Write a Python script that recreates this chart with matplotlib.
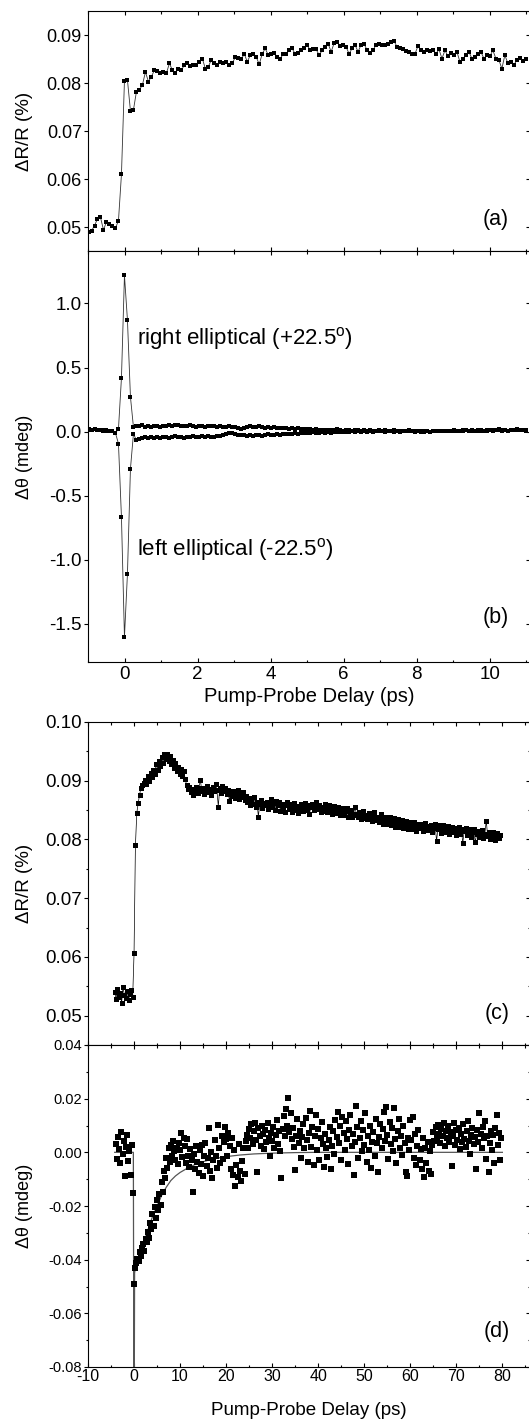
import numpy as np
import matplotlib
matplotlib.use('Agg')
import matplotlib.pyplot as plt
from matplotlib.ticker import MultipleLocator

plt.rcParams['font.family'] = ['Liberation Sans', 'DejaVu Sans']
plt.rcParams['mathtext.fontset'] = 'custom'
plt.rcParams['mathtext.rm'] = 'Liberation Sans'
plt.rcParams['mathtext.it'] = 'Liberation Sans:italic'

# ---------------- data ----------------
# panels (a),(b): delay grid start / step (ps)
ab_start = -0.986
ab_step = 0.082

# (a) dR/R (%)
dRR_a = [0.0489, 0.0492, 0.0503, 0.0517, 0.0520, 0.0494, 0.0511, 0.0506, 0.0503, 0.0498, 0.0513, 0.0610,
         0.0805, 0.0806, 0.0742,
         0.0744, 0.0782, 0.0786, 0.0796, 0.0823, 0.0803, 0.0813, 0.0827, 0.0826, 0.0820,
         0.0823, 0.0820, 0.0841, 0.0827, 0.0821, 0.0830, 0.0827, 0.0837, 0.0841, 0.0835,
         0.0837, 0.0837, 0.0844, 0.0851, 0.0830, 0.0834, 0.0848, 0.0842, 0.0837, 0.0844,
         0.0841, 0.0844, 0.0837, 0.0841, 0.0854, 0.0853, 0.0849, 0.0861, 0.0844, 0.0858,
         0.0861, 0.0854, 0.0839, 0.0861, 0.0872, 0.0858, 0.0861, 0.0863, 0.0854, 0.0851,
         0.0860, 0.0861, 0.0868, 0.0872, 0.0860, 0.0863, 0.0868, 0.0872, 0.0879, 0.0868,
         0.0870, 0.0870, 0.0858, 0.0868, 0.0874, 0.0882, 0.0865, 0.0883, 0.0886, 0.0877,
         0.0879, 0.0875, 0.0861, 0.0872, 0.0879, 0.0865, 0.0880, 0.0882, 0.0868, 0.0863,
         0.0868, 0.0880, 0.0882, 0.0880, 0.0879, 0.0882, 0.0886, 0.0888, 0.0875, 0.0872,
         0.0870, 0.0867, 0.0865, 0.0861, 0.0861, 0.0877, 0.0868, 0.0865, 0.0868, 0.0867,
         0.0868, 0.0861, 0.0870, 0.0851, 0.0868, 0.0856, 0.0863, 0.0858, 0.0865, 0.0844,
         0.0851, 0.0858, 0.0865, 0.0851, 0.0854, 0.0861, 0.0865, 0.0851, 0.0858, 0.0856,
         0.0868, 0.0851, 0.0848, 0.0830, 0.0858, 0.0841, 0.0844, 0.0837, 0.0848, 0.0853,
         0.0846, 0.0850]

# (b) Kerr rotation (mdeg), right / left elliptical pump
theta_right = [0.016, 0.012, 0.018, 0.010, 0.013, 0.008, 0.011, 0.005, 0.003, -0.010,
               0.020, 0.420, 1.220, 0.870, 0.270, 0.035,
               0.045, 0.040, 0.048, 0.038, 0.044, 0.036, 0.042, 0.047, 0.039, 0.045, 0.041,
               0.050, 0.043, 0.048, 0.052, 0.046, 0.040, 0.044, 0.049, 0.042, 0.038, 0.045,
               0.041, 0.036, 0.043, 0.047, 0.040, 0.037, 0.044, 0.039, 0.035, 0.041, 0.038,
               0.034, 0.028, 0.022, 0.030, 0.036, 0.040, 0.033, 0.038, 0.042, 0.035, 0.031,
               0.037, 0.029, 0.033, 0.027, 0.031, 0.025, 0.028, 0.022, 0.026, 0.020, 0.024,
               0.018, 0.021,
               0.016, 0.019, 0.013, 0.017, 0.012, 0.015, 0.010, 0.014, 0.009, 0.012, 0.016,
               0.011, 0.008, 0.013, 0.010, 0.006, 0.011, 0.009, 0.005, 0.010, 0.007, 0.012,
               0.008, 0.004,
               0.009, 0.006, 0.010, 0.003, 0.007, 0.011, 0.005, 0.008, 0.002, 0.006, 0.009,
               0.004, 0.001, 0.005, -0.002, 0.003, 0.006, 0.000, 0.004, 0.007, 0.002, 0.005,
               0.008, 0.003, 0.006, 0.010,
               0.007, 0.004, 0.009, 0.012, 0.006, 0.010, 0.005, 0.008, 0.013, 0.007, 0.011,
               0.015, 0.009, 0.012, 0.016, 0.010, 0.013, 0.008, 0.014, 0.011, 0.017, 0.012,
               0.015, 0.010]
theta_left = [0.014, 0.010, 0.016, 0.012, 0.009, 0.011, 0.006, 0.008, 0.002, -0.012,
              -0.095, -0.670, -1.605, -1.110, -0.290, -0.018,
              -0.068, -0.055, -0.050, -0.046, -0.052, -0.044, -0.049, -0.042, -0.047, -0.040,
              -0.045, -0.050, -0.043, -0.038, -0.044, -0.041, -0.047, -0.039, -0.043, -0.036,
              -0.041, -0.045, -0.038, -0.042, -0.035, -0.040, -0.044, -0.037, -0.033, -0.028,
              -0.022, -0.015, -0.010,
              -0.018, -0.024, -0.030, -0.026, -0.033, -0.028, -0.035, -0.030, -0.025, -0.031,
              -0.027, -0.022, -0.028, -0.024, -0.019, -0.025, -0.020, -0.016, -0.021, -0.017,
              -0.012, -0.018, -0.014, -0.009,
              -0.015, -0.011, -0.006, -0.012, -0.008, -0.003, -0.009, -0.005, -0.010, -0.004,
              0.000, -0.006, -0.002, -0.007, -0.001, 0.003, -0.004, 0.001, -0.003, 0.002,
              -0.002, 0.004, 0.000, 0.005,
              0.001, 0.004, -0.001, 0.006, 0.002, 0.000, 0.005, -0.002, 0.003, 0.007, 0.001,
              0.004, -0.001, 0.002, 0.006, 0.000, 0.003, -0.003, 0.002, 0.005, 0.001, 0.004,
              0.008, 0.002, 0.005, 0.003,
              0.006, 0.002, 0.005, 0.009, 0.004, 0.007, 0.003, 0.010, 0.006, 0.008, 0.004,
              0.011, 0.007, 0.009, 0.013, 0.008, 0.011, 0.006, 0.012, 0.009, 0.014, 0.010,
              0.012, 0.008]

# (c) dR/R in units of 1e-4 %, delay grid start -4.2 ps, step 0.3 ps
c_start = -4.2
c_step = 0.3
dRR_c_e4 = [540, 528, 545, 532, 538, 522, 548, 535, 530, 542, 526, 537, 544, 531,
            606,
            790, 845, 862, 876, 888, 892, 896,
            901, 895, 908, 900, 914, 906, 918, 911,
            928, 919, 934, 925, 940, 931, 946, 937,
            945, 933, 942, 928, 936, 922, 931, 917,
            924, 911, 920, 908, 916, 903, 893, 886,
            889, 880, 886, 876, 884, 890, 879, 887,
            902, 883, 888, 878, 885, 891, 880, 886,
            876, 889, 882, 895, 884, 856, 887, 879,
            891, 883, 888, 877, 885, 866, 880, 874,
            882, 871, 878, 885, 869, 876, 872, 880,
            868, 874, 863, 870, 858, 866, 861, 872,
            856, 864, 839, 860, 867, 853, 862, 858,
            864, 852, 860, 869, 855, 862, 850, 866,
            858, 863, 849, 861, 855, 846, 859, 864,
            852, 860, 847, 856, 862, 850, 857, 845,
            853, 860, 848, 856, 862, 851, 858, 844,
            855, 861, 850, 857, 864, 852, 858, 847,
            856, 849, 861, 853, 846, 858, 851, 843,
            852, 857, 845, 850, 855, 842, 849, 854,
            841, 848, 853, 839, 846, 851, 838, 844,
            856, 842, 838, 847, 835, 843, 849, 836,
            841, 834, 845, 838, 831, 840, 846, 833,
            838, 829, 836, 843, 827, 834, 839, 826,
            833, 838, 824, 831, 836, 822, 829, 834,
            821, 828, 833, 819, 826, 831, 818, 825,
            830, 817, 824, 829, 815, 822, 827, 819,
            826, 814, 821, 828, 816, 823, 818, 825,
            813, 820, 826, 797, 818, 824, 811, 819,
            825, 812, 818, 823, 809, 816, 822, 813,
            819, 808, 815, 821, 810, 817, 794, 814,
            820, 807, 813, 818, 805, 812, 817, 795,
            809, 815, 804, 811, 816, 803, 810, 832,
            806, 812, 801, 808, 813, 799, 806, 811,
            802, 808]

# (d) Kerr rotation in units of 1e-4 mdeg, delay grid start -4.0 ps, step 0.25 ps
d_start = -4.0
d_step = 0.25
theta_d_e4 = [32, -25, 58, 12, -41, 75, -8, 44, -88, 19, 63, -31, 5, -86, 27,
              -150, -490,
              -430, -412, -398, -405, -372, -388, -355, -341, -368, -322, -336, -298,
              -318, -262, -284, -231, -275, -202, -246, -178, -214, -155, -196, -112,
              -148, -68, -95, -22, -58, 15, -35, 28, -12, 42, 5, -28, 18, -45, 35, 8,
              72, -18, 55, 22, -38, 48, -12,
              -55, 12, -28, -148, -5, -62, 25, -35,
              -78, 8, -42, 28, -88, -15, 35, -52,
              -22, 89, -68, 2, -95, -30, 45, -12,
              -58, 102, 18, -40, 62, -25, 38, 95,
              48, -15, 72, 22, -62, 55, -85, 10,
              -125, -48, -92, 30, -70, -105, -32, 15,
              -80, 42, 65, 18, 88, 52, 105, 30,
              78, 110, 45, -72, 92, 60, 25, 98,
              68, 12, 85, 38, 110, 55, -15, 72,
              42, 95, 18, 65, 120, 32, 78, 5,
              -95, 88, 135, 60, 160, 100, 202, 75,
              145, 48, 92, 20, -65, 62, 125, 35,
              80, -22, 58, 105, 15, 128, 45, -35,
              72, 155, 20, 95, -48, 60, 138, 8,
              88, -28, 52, 112, 30, -55, 70, 15,
              -18, 45, 95, -62, 25, 78, -8, 120,
              58, 150, 35, 98, -30, 130, 72, 10,
              115, 48, -42, 85, 140, 22, 68, -85,
              38, 172, 95, -20, 55, 118, 5, 82,
              28, 148, -35, 62, 10, 98, -60, 40,
              75, -15, 125, 35, -72, 58, 105, 18,
              88, 150, 42, 168, 65, -25, 112, 30,
              92, 5, 165, 48, -38, 78, 125, 15,
              62, -10, 98, 35, -75, -88, 52, 8,
              120, 45, 132, -20, 68, -48, 25, 85,
              -30, 12, -62, 55, -92, 18, -40, 38,
              -68, 5, -82, 28, 75, 42, 95, 58,
              102, 70, 35, 88, 62, 108, 22, 80,
              55, 98, 40, 75, -50, 62, 110, 28,
              85, 45, 92, 12, 68, 38, 105, 50,
              20, 78, 115, 42, -5, 65, 92, 30,
              58, -62, 85, 40, 148, 70, 15, 95,
              52, 118, -25, 60, -72, 35, 80, 10,
              65, -38, 92, 138, 28, 72, -30, 55]

# (d) fitted curve (ps, mdeg)
fit_d_x = [-4.2, -0.15, 0.0, 0.12, 0.3, 1, 2, 3, 4, 5, 6, 7, 8, 9, 10, 12, 14, 16, 18, 20,
           23, 26, 30, 35, 40, 50, 60, 70, 80]
fit_d_y = [0.0, 0.0, -0.12, -0.045, -0.043, -0.039, -0.034, -0.029, -0.024, -0.020, -0.016,
           -0.013, -0.0105, -0.0088, -0.0075, -0.0055, -0.004, -0.003, -0.0022, -0.0016,
           -0.001, -0.0006, -0.0003, -0.0001, 0.0, 0.0, 0.0, 0.0, 0.0]

# ---------------- figure ----------------
W, H = 529, 1423
fig = plt.figure(figsize=(W / 100, H / 100), dpi=100)


def add_ax(l, t, r, b):
    return fig.add_axes([l / W, 1 - b / H, (r - l) / W, (b - t) / H])


def style(ax, ylab_size, xlab_size=None, major=3.0, minor=1.8):
    for s in ax.spines.values():
        s.set_linewidth(0.8)
    ax.tick_params(axis='x', which='both', direction='in', top=True, bottom=True,
                   width=0.8, labelsize=xlab_size if xlab_size else 10)
    ax.tick_params(axis='x', which='major', length=major)
    ax.tick_params(axis='x', which='minor', length=minor)
    ax.tick_params(axis='y', which='both', direction='out', left=True, right=False,
                   width=0.8, labelsize=ylab_size, pad=1.5)
    ax.tick_params(axis='y', which='major', length=major)
    ax.tick_params(axis='y', which='minor', length=minor)
    sec = ax.secondary_yaxis('right')
    sec.tick_params(axis='y', which='both', direction='in', width=0.8, labelright=False)
    sec.tick_params(axis='y', which='major', length=major)
    sec.tick_params(axis='y', which='minor', length=minor)
    sec.spines['right'].set_linewidth(0.8)
    return sec


# (a)
ax_a = add_ax(88, 11, 530, 251)
xa = ab_start + ab_step * np.arange(len(dRR_a))
ax_a.plot(xa, dRR_a, '-', lw=0.6, color='#333333', marker='s', markersize=2.7,
          markerfacecolor='black', markeredgewidth=0)
ax_a.set_xlim(-1, 11.1)
ax_a.set_ylim(0.045, 0.095)
ax_a.xaxis.set_major_locator(MultipleLocator(2))
ax_a.xaxis.set_minor_locator(MultipleLocator(1))
at = [0.05, 0.06, 0.07, 0.08, 0.09]
ax_a.set_yticks(at)
ax_a.set_yticklabels(['0.05', '0.06', '0.07', '0.08', '0.09'])
sec = style(ax_a, 13)
sec.set_yticks(at)
ax_a.tick_params(axis='x', labelbottom=False)
ax_a.set_ylabel('ΔR/R (%)', fontsize=13.5)
ax_a.yaxis.set_label_coords(-0.124, 0.5)
ax_a.text(0.952, 0.133, '(a)', transform=ax_a.transAxes, ha='right', va='center', fontsize=15.5)

# (b)
ax_b = add_ax(88, 251, 530, 662)
xb = ab_start + ab_step * np.arange(len(theta_right))
for series in (theta_right, theta_left):
    ax_b.plot(xb, series, '-', lw=0.6, color='#333333', marker='s', markersize=3.0,
              markerfacecolor='black', markeredgewidth=0)
ax_b.set_xlim(-1, 11.1)
ax_b.set_ylim(-1.8, 1.41)
ax_b.xaxis.set_major_locator(MultipleLocator(2))
ax_b.xaxis.set_minor_locator(MultipleLocator(1))
bt = [-1.5, -1.0, -0.5, 0.0, 0.5, 1.0]
ax_b.set_yticks(bt)
ax_b.set_yticklabels(['-1.5', '-1.0', '-0.5', '0.0', '0.5', '1.0'])
sec = style(ax_b, 13.5, 13.5)
sec.set_yticks(bt)
ax_b.tick_params(axis='x', pad=3)
ax_b.set_xlabel('Pump-Probe Delay (ps)', fontsize=14.5, labelpad=3)
ax_b.set_ylabel('Δθ (mdeg)', fontsize=13)
ax_b.yaxis.set_label_coords(-0.124, 0.5)
ax_b.text(0.34, 0.73, r'right elliptical (+22.5$^{\mathrm{o}}$)', fontsize=16, ha='left', va='center')
ax_b.text(0.34, -0.92, r'left elliptical (-22.5$^{\mathrm{o}}$)', fontsize=16, ha='left', va='center')
ax_b.text(0.952, 0.109, '(b)', transform=ax_b.transAxes, ha='right', va='center', fontsize=15.5)

# (c)
ax_c = add_ax(88, 722, 530, 1045)
yc = np.array(dRR_c_e4) * 1e-4
xc = c_start + c_step * np.arange(len(yc))
ax_c.plot(xc, yc, '-', lw=0.5, color='black', marker='s', markersize=3.6,
          markerfacecolor='black', markeredgewidth=0)
ax_c.set_xlim(-10, 86)
ax_c.set_ylim(0.045, 0.10)
ax_c.xaxis.set_major_locator(MultipleLocator(10))
ax_c.xaxis.set_minor_locator(MultipleLocator(5))
ct = [0.05, 0.06, 0.07, 0.08, 0.09, 0.10]
ax_c.set_yticks(ct)
ax_c.set_yticklabels(['0.05', '0.06', '0.07', '0.08', '0.09', '0.10'])
ax_c.yaxis.set_minor_locator(MultipleLocator(0.005))
sec = style(ax_c, 13.5)
sec.set_yticks(ct)
sec.yaxis.set_minor_locator(MultipleLocator(0.005))
ax_c.tick_params(axis='x', labelbottom=False)
ax_c.set_ylabel('ΔR/R (%)', fontsize=13.5)
ax_c.yaxis.set_label_coords(-0.124, 0.5)
ax_c.text(0.955, 0.096, '(c)', transform=ax_c.transAxes, ha='right', va='center', fontsize=15.5)

# (d)
ax_d = add_ax(88, 1045, 530, 1367)
yd = np.array(theta_d_e4) * 1e-4
xd = d_start + d_step * np.arange(len(yd))
ax_d.plot(fit_d_x, fit_d_y, '-', lw=0.9, color='#555555')
ax_d.plot(xd, yd, 's', color='black', markersize=3.7, markeredgewidth=0)
ax_d.set_xlim(-10, 86)
ax_d.set_ylim(-0.08, 0.04)
dt = [-0.08, -0.06, -0.04, -0.02, 0.00, 0.02, 0.04]
ax_d.set_yticks(dt)
ax_d.set_yticklabels(['-0.08', '-0.06', '-0.04', '-0.02', '0.00', '0.02', '0.04'])
ax_d.yaxis.set_minor_locator(MultipleLocator(0.01))
ax_d.set_xticks([-10, 0, 10, 20, 30, 40, 50, 60, 70, 80])
ax_d.set_xticklabels(['-10', '0', '10', '20', '30', '40', '50', '60', '70', '80'])
ax_d.xaxis.set_minor_locator(MultipleLocator(5))
sec = style(ax_d, 10.5, 11.5)
sec.set_yticks(dt)
sec.yaxis.set_minor_locator(MultipleLocator(0.01))
ax_d.tick_params(axis='x', pad=1.5)
ax_d.set_xlabel('Pump-Probe Delay (ps)', fontsize=13.5, labelpad=13)
ax_d.set_ylabel('Δθ (mdeg)', fontsize=13)
ax_d.yaxis.set_label_coords(-0.124, 0.5)
ax_d.text(0.955, 0.109, '(d)', transform=ax_d.transAxes, ha='right', va='center', fontsize=15.5)

fig.savefig('out.png', dpi=100)
